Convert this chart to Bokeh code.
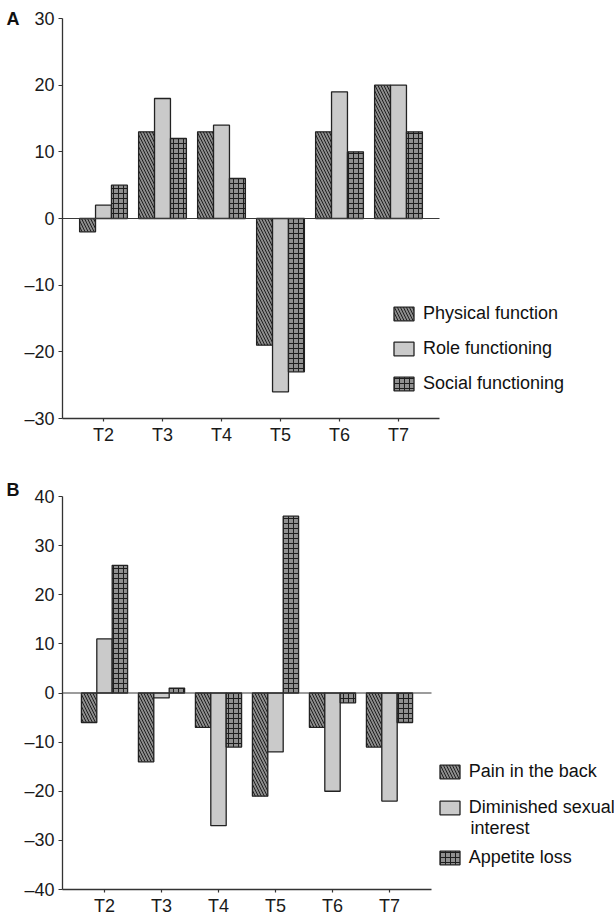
from bokeh.plotting import figure
from bokeh.layouts import column
from bokeh.models import Range1d, FixedTicker, Legend, LegendItem, Label, LinearAxis
from bokeh.embed import file_html
from bokeh.resources import INLINE

# ---------------- data ----------------
timepoints = ["T2", "T3", "T4", "T5", "T6", "T7"]

a_names = ["Physical function", "Role functioning", "Social functioning"]
a_physical = [-2, 13, 13, -19, 13, 20]
a_role = [2, 18, 14, -26, 19, 20]
a_social = [5, 12, 6, -23, 10, 13]
a_yticks = [-30, -20, -10, 0, 10, 20, 30]

b_names = ["Pain in the back", "Diminished sexual", "Appetite loss"]
b_name2_line2 = "interest"
b_pain = [-6, -14, -7, -21, -7, -11]
b_sexual = [11, -1, -27, -12, -20, -22]
b_appetite = [26, 1, -11, 36, -2, -6]
b_yticks = [-40, -30, -20, -10, 0, 10, 20, 30, 40]

# ---------------- styles ----------------
FONT = "Liberation Sans"
FS = "18px"
STYLES = [
    dict(fill_color="#8c8c8c", hatch_pattern="left_diagonal_line", hatch_color="#1e1e1e",
         hatch_scale=6, hatch_weight=1.0),
    dict(fill_color="#cacaca"),
    dict(fill_color="#909090", hatch_pattern="cross", hatch_color="#1e1e1e",
         hatch_scale=5, hatch_weight=1.0),
]
BAR_W = 0.27
FIG_W = 615
ITEM_H = 24


def fmt(v):
    return "\u2013" + str(-v) if v < 0 else str(v)


def make_panel(letter, letter_px, names, series, yticks, frame_left, frame_h, top, bottom,
               unit_px, first_tick_px, legend_groups, extra_labels):
    frame_w = FIG_W - frame_left
    x0 = -(first_tick_px - frame_left) / unit_px
    x_axis_end = len(timepoints) - 1 - x0
    x1 = x0 + frame_w / unit_px
    ymin, ymax = yticks[0], yticks[-1]
    ypx = frame_h / (ymax - ymin)
    ytop = ymax + letter_px / ypx   # a little room above the axis for the panel letter

    p = figure(frame_width=frame_w, frame_height=frame_h + letter_px,
               min_border_left=frame_left, min_border_right=0,
               min_border_top=top - letter_px, min_border_bottom=bottom,
               x_range=Range1d(x0, x1), y_range=Range1d(ymin, ytop),
               output_backend="svg", toolbar_location=None)
    p.grid.visible = False
    p.outline_line_color = None
    p.background_fill_color = "white"
    p.border_fill_color = "white"

    renderers = []
    for k, (vals, st) in enumerate(zip(series, STYLES)):
        xs = [i + (k - 1) * BAR_W for i in range(len(timepoints))]
        r = p.vbar(x=xs, top=vals, bottom=0, width=BAR_W,
                   line_color="#222222", line_width=1.3, **st)
        renderers.append(r)

    # zero line between the axis bounds
    p.segment(x0=[x0], y0=[0], x1=[x_axis_end], y1=[0], line_color="#3a3a3a", line_width=1.2)

    p.xaxis.ticker = FixedTicker(ticks=list(range(len(timepoints))))
    p.xaxis.major_label_overrides = {i: t for i, t in enumerate(timepoints)}
    p.xaxis.bounds = (x0, x_axis_end)
    p.yaxis.ticker = FixedTicker(ticks=yticks)
    p.yaxis.major_label_overrides = {v: fmt(v) for v in yticks}
    p.yaxis.bounds = (ymin, ymax)
    for ax in (p.xaxis[0], p.yaxis[0]):
        ax.axis_line_color = "#333333"
        ax.axis_line_width = 1.3
        ax.major_tick_line_color = "#333333"
        ax.major_tick_line_width = 1.2
        ax.minor_tick_line_color = None
        ax.major_label_text_font = FONT
        ax.major_label_text_font_size = FS
        ax.major_label_text_color = "#1a1a1a"
    p.xaxis.major_tick_in = 0
    p.xaxis.major_tick_out = 3
    p.xaxis.major_label_standoff = 3
    p.yaxis.major_tick_in = 0
    p.yaxis.major_tick_out = 4
    p.yaxis.major_label_standoff = 4

    # panel letter, drawn as the only label of an extra (invisible) left axis
    letter_axis = LinearAxis(ticker=FixedTicker(ticks=[ytop]),
                             major_label_overrides={ytop: letter},
                             axis_line_color=None, major_tick_line_color=None,
                             minor_tick_line_color=None, major_tick_out=0, major_tick_in=0,
                             major_label_standoff=2,
                             major_label_text_font=FONT, major_label_text_font_size=FS,
                             major_label_text_font_style="bold",
                             major_label_text_color="#111111")
    p.add_layout(letter_axis, "left")

    for idxs, lx, ly, sp in legend_groups:
        items = [LegendItem(label=names[i], renderers=[renderers[i]]) for i in idxs]
        lg = Legend(items=items, location=(lx, ly), orientation="vertical",
                    glyph_width=25, glyph_height=17, label_height=ITEM_H, spacing=sp,
                    label_standoff=7, padding=0, margin=0,
                    border_line_color=None, background_fill_alpha=0,
                    label_text_font=FONT, label_text_font_size=FS, label_text_color="#111111")
        p.add_layout(lg)

    for txt, lx_px, ly_px in extra_labels:
        p.add_layout(Label(x=x0 + lx_px / unit_px, y=ymin + ly_px / ypx, text=txt,
                           text_font=FONT, text_font_size=FS, text_baseline="middle",
                           text_align="left", text_color="#111111"))
    return p


pa = make_panel("A", 0, a_names, [a_physical, a_role, a_social], a_yticks,
                frame_left=62, frame_h=400, top=18, bottom=52,
                unit_px=59, first_tick_px=103,
                legend_groups=[([0, 1, 2], 329, 23, 11)], extra_labels=[])

pb = make_panel("B", 7, b_names, [b_pain, b_sexual, b_appetite], b_yticks,
                frame_left=61, frame_h=393, top=26, bottom=28,
                unit_px=57, first_tick_px=103,
                legend_groups=[([0, 1], 377, 70, 12), ([2], 377, 20, 12)],
                extra_labels=[(b_name2_line2, 377 + 25 + 6, 889 - 827)])

layout = column(pa, pb, spacing=0)
open("out.html", "w").write(file_html(layout, INLINE))
